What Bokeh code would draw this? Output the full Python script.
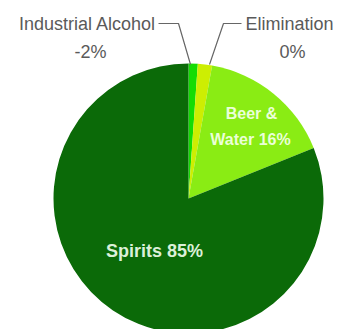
import math
from bokeh.plotting import figure
from bokeh.models import Range1d, ColumnDataSource
from bokeh.core.properties import value
from bokeh.embed import file_html
from bokeh.resources import INLINE

# Data (angular shares, clockwise from 12 o'clock)
categories = ["Industrial Alcohol", "Elimination", "Beer & Water", "Spirits"]
shares = [1.1, 1.7, 16.1, 81.1]
label_pcts = ["-2%", "0%", "16%", "85%"]
colors = ["#14dc04", "#cdee02", "#8aec14", "#0b6a08"]

W, H = 347, 329
p = figure(width=W, height=H, output_backend="svg", toolbar_location=None,
           x_range=Range1d(0, W), y_range=Range1d(0, H),
           x_axis_location=None, y_axis_location=None, min_border=0)
p.grid.visible = False
p.outline_line_color = None
p.background_fill_color = "white"
p.border_fill_color = "white"

def Y(y):
    return H - y

cx, cy, r = 188, Y(198), 135
total = sum(shares)
starts, ends = [], []
cum = 0.0
for s in shares:
    a0 = math.pi / 2 - 2 * math.pi * cum / total
    cum += s
    a1 = math.pi / 2 - 2 * math.pi * cum / total
    starts.append(a0)
    ends.append(a1)

src = ColumnDataSource(dict(x=[cx] * 4, y=[cy] * 4, start=starts, end=ends, color=colors))
p.wedge(x="x", y="y", radius=r, start_angle="start", end_angle="end",
        direction="clock", fill_color="color", line_color=None, source=src)

# leader lines
p.line([158, 178, 190], [Y(23), Y(23), Y(64)], line_color="#666666", line_width=1.2)
p.line([241, 223, 209], [Y(23), Y(23), Y(64)], line_color="#666666", line_width=1.2)

font = value("Liberation Sans")
# outer labels
p.text(x=[87], y=[Y(23)], text=[categories[0]], text_font=font, text_font_size="18px",
       text_color="#5a5a5a", text_align="center", text_baseline="middle")
p.text(x=[90], y=[Y(51)], text=[label_pcts[0]], text_font=font, text_font_size="18px",
       text_color="#5a5a5a", text_align="center", text_baseline="middle")
p.text(x=[289], y=[Y(23)], text=[categories[1]], text_font=font, text_font_size="18px",
       text_color="#5a5a5a", text_align="center", text_baseline="middle")
p.text(x=[292], y=[Y(51)], text=[label_pcts[1]], text_font=font, text_font_size="18px",
       text_color="#5a5a5a", text_align="center", text_baseline="middle")

# inner labels
p.text(x=[251, 250], y=[Y(113), Y(139)], text=["Beer &", "Water " + label_pcts[2]],
       text_font=font, text_font_size="16px", text_font_style="bold",
       text_color="#eaffd8", text_align="center", text_baseline="middle")
p.text(x=[154], y=[Y(250)], text=["Spirits " + label_pcts[3]],
       text_font=font, text_font_size="18px", text_font_style="bold",
       text_color="#dcf0d8", text_align="center", text_baseline="middle")

open("out.html", "w").write(file_html(p, INLINE))
